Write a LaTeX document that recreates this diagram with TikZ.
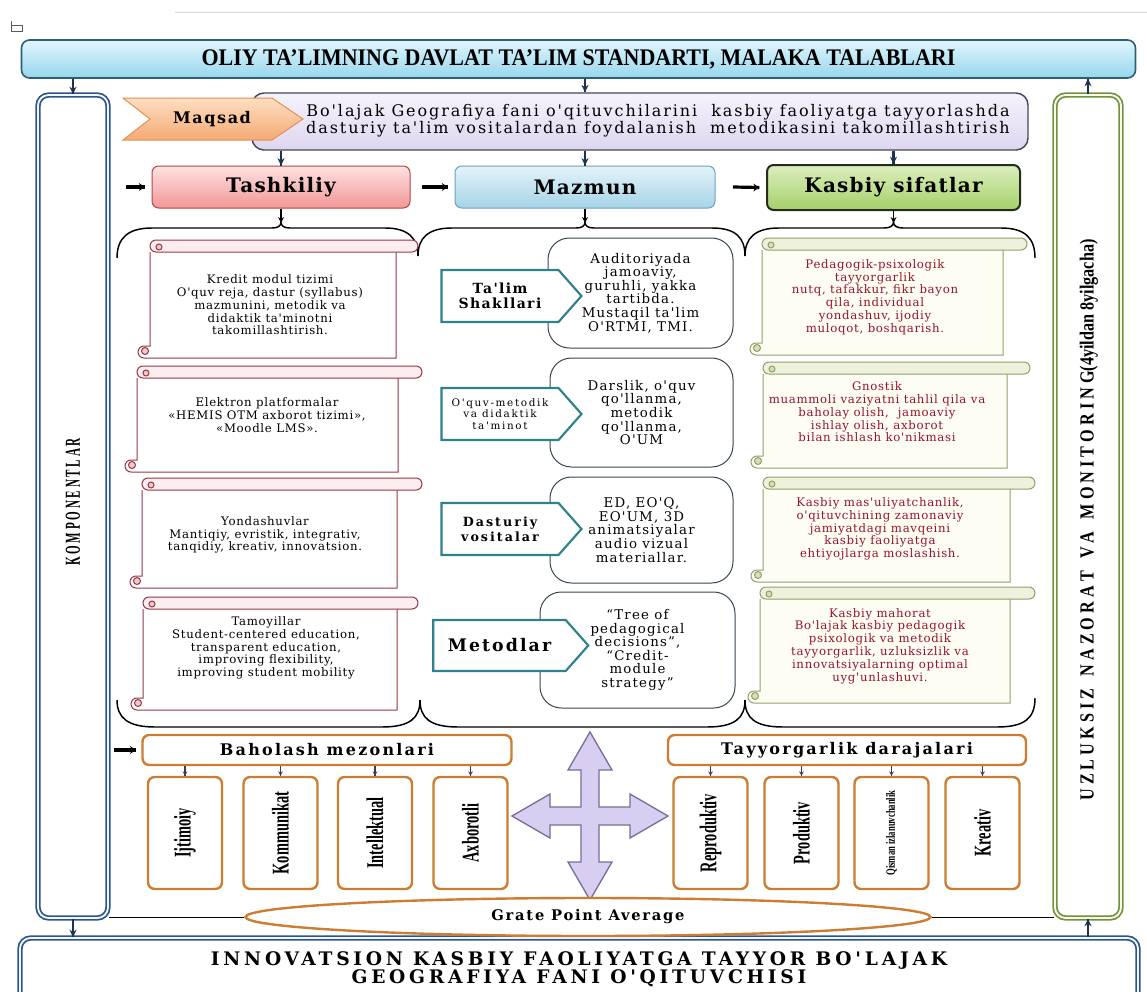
\documentclass[tikz,border=0pt]{standalone}
\usepackage{fontspec}
\setmainfont{Liberation Serif}
\newfontfamily\dvserif{DejaVu Serif}
\usetikzlibrary{shapes.geometric,shapes.symbols}

\definecolor{stdtop}{RGB}{226,246,252}
\definecolor{stdbot}{RGB}{150,214,238}
\definecolor{goaltop}{RGB}{246,243,251}
\definecolor{goalbot}{RGB}{222,214,240}
\definecolor{chevtop}{RGB}{253,222,195}
\definecolor{chevbot}{RGB}{245,170,115}
\definecolor{tashtop}{RGB}{253,226,226}
\definecolor{tashbot}{RGB}{242,150,150}
\definecolor{mazmtop}{RGB}{228,243,249}
\definecolor{mazmbot}{RGB}{165,212,232}
\definecolor{kasbtop}{RGB}{220,238,190}
\definecolor{kasbbot}{RGB}{165,208,105}

\tikzset{every picture/.style={line width=0.75pt}}
\tikzset{
  scrolltext/.style={align=center, inner sep=0pt, font=\dvserif\addfontfeatures{LetterSpace=6}\fontsize{8.8}{9.6}\selectfont},
  redtext/.style={scrolltext, text={rgb, 255:red, 150; green, 20; blue, 45 }},
  calloutbox/.style={draw={rgb, 255:red, 55; green, 70; blue, 80 }, fill=white, rounded corners=16pt, inner sep=0pt, align=center, font=\dvserif\addfontfeatures{LetterSpace=9}\fontsize{10}{10.2}\selectfont},
  tagsign/.style={signal, signal to=east, signal pointer angle=97, draw={rgb, 255:red, 45; green, 130; blue, 140 }, line width=1.6pt, fill=white, inner sep=0pt, align=center},
  headbox/.style={rounded corners=5pt, inner sep=0pt, minimum height=31.5pt, font=\dvserif\bfseries\addfontfeatures{LetterSpace=6}\fontsize{15}{15}\selectfont},
  orangebox/.style={draw={rgb, 255:red, 205; green, 125; blue, 50 }, line width=1.8pt, rounded corners=5pt, fill=white, inner sep=0pt},
  uprighttext/.style={font=\bfseries\fontsize{18}{18}\selectfont},
}

\begin{document}
\begin{tikzpicture}[x=0.75pt,y=0.75pt,yscale=-1,xscale=1]
\useasboundingbox (0,0) rectangle (1147,992);

%Straight Lines (faint rule at the top)
\draw [color={rgb, 255:red, 215; green, 215; blue, 215 }] (175,12) -- (1147,12) ;
%Shape: small box glyph
\draw [color={rgb, 255:red, 90; green, 90; blue, 90 }, line width=0.6] (11,21) -- (11,31) -- (22,31) -- (22,25) -- (11,25) ;

%Rounded Rect: standard
\node (std) [draw={rgb, 255:red, 45; green, 95; blue, 115 }, line width=1.2pt, rounded corners=6pt, top color=stdtop, bottom color=stdbot, minimum width=835.5pt, minimum height=28.5pt, inner sep=0pt, font=\bfseries\fontsize{17}{17}\selectfont] at (578.5,59) {\scalebox{0.97}[1.05]{OLIY TA'LIMNING DAVLAT TA'LIM STANDARTI, MALAKA TALABLARI}};

%Rounded Rect: komponentlar
\node (komp) [draw={rgb, 255:red, 45; green, 85; blue, 140 }, double={rgb, 255:red, 240; green, 246; blue, 252 }, line width=1.3pt, double distance=1.4pt, rounded corners=8pt, fill=white, minimum width=52.5pt, minimum height=617.25pt, inner sep=0pt] at (73,506.5) {};
% Text Node
\node (komptxt) [rotate=90, inner sep=0pt, font=\bfseries\fontsize{16}{16}\selectfont] at (73,502) {\scalebox{0.52}[1]{K O M P O N E N T L A R}};

%Rounded Rect: monitoring
\node (monit) [draw={rgb, 255:red, 115; green, 145; blue, 55 }, double={rgb, 255:red, 246; green, 250; blue, 238 }, line width=1.3pt, double distance=1.4pt, rounded corners=8pt, fill=white, minimum width=49.5pt, minimum height=617.25pt, inner sep=0pt] at (1088,506.5) {};
% Text Node
\node (monittxt) [rotate=90, inner sep=0pt, font=\bfseries\fontsize{15}{15}\selectfont] at (1089,520) {\scalebox{0.81}[1]{U Z L U K S I Z\ \ \ N A Z O R A T\ \ \ V A\ \ \ M O N I T O R I N G(4yildan 8yilgacha)}};

%Rounded Rect: result
\node (kadr) [draw={rgb, 255:red, 45; green, 85; blue, 140 }, double={rgb, 255:red, 240; green, 246; blue, 252 }, line width=1.3pt, double distance=1.4pt, rounded corners=8pt, fill=white, minimum width=838.5pt, minimum height=60pt, inner sep=0pt] at (579,978) {};
% Text Node
\node (kadrtxt) [align=center, inner sep=0pt, font=\dvserif\bfseries\addfontfeatures{LetterSpace=20}\fontsize{14}{13.5}\selectfont] at (579,969) {INNOVATSION KASBIY FAOLIYATGA TAYYOR BO'LAJAK\\GEOGRAFIYA FANI O'QITUVCHISI};

%Rounded Rect: goal
\node (goal) [draw={rgb, 255:red, 70; green, 70; blue, 90 }, line width=1.1pt, rounded corners=9pt, top color=goaltop, bottom color=goalbot, minimum width=582pt, minimum height=42.75pt, inner sep=0pt] at (640,121.5) {};
% Text Node
\node (goaltxt) [align=center, inner sep=0pt, font=\dvserif\addfontfeatures{LetterSpace=12}\fontsize{12}{12.8}\selectfont] at (658,121) {Bo'lajak Geografiya fani o'qituvchilarini\ \ kasbiy faoliyatga tayyorlashda\\dasturiy ta'lim vositalardan foydalanish\ \ metodikasini takomillashtirish};

%Shape: Chevron
\draw [color={rgb, 255:red, 225; green, 145; blue, 85 }, top color=chevtop, bottom color=chevbot] (123,98) -- (272,98) -- (303,119) -- (272,140) -- (123,140) -- (150,119) -- cycle ;
% Text Node
\node (maqsad) [inner sep=0pt, font=\dvserif\bfseries\addfontfeatures{LetterSpace=10}\fontsize{12}{12}\selectfont] at (212,119) {Maqsad};

%Rounded Rect: three headings
\node (tash) [headbox, draw={rgb, 255:red, 175; green, 70; blue, 70 }, top color=tashtop, bottom color=tashbot, minimum width=193.5pt] at (281,187) {Tashkiliy};
\node (mazm) [headbox, draw={rgb, 255:red, 110; green, 160; blue, 185 }, top color=mazmtop, bottom color=mazmbot, minimum width=195pt] at (585,187) {Mazmun};
\node (kasb) [headbox, draw={rgb, 255:red, 35; green, 45; blue, 30 }, line width=1.5pt, top color=kasbtop, bottom color=kasbbot, minimum width=189.75pt, minimum height=33.75pt] at (893.5,187.5) {Kasbiy sifatlar};

%Straight Lines: top arrows
\draw [color={rgb, 255:red, 30; green, 50; blue, 80 }, line width=1.6] (std.south -| komp.north) -- (komp.north) ;
\draw [shift={(komp.north)}, rotate = 270] [fill={rgb, 255:red, 30; green, 50; blue, 80 }  ][line width=0.08]  [draw opacity=0] (7.5,-3.6) -- (0,0) -- (7.5,3.6) -- (5,0) -- cycle    ;
\draw [color={rgb, 255:red, 30; green, 50; blue, 80 }, line width=1.6] (std.south -| mazm.north) -- (goal.north -| mazm.north) ;
\draw [shift={(goal.north -| mazm.north)}, rotate = 270] [fill={rgb, 255:red, 30; green, 50; blue, 80 }  ][line width=0.08]  [draw opacity=0] (7.5,-3.6) -- (0,0) -- (7.5,3.6) -- (5,0) -- cycle    ;
\draw [color={rgb, 255:red, 30; green, 50; blue, 80 }, line width=1.6] (monit.north) -- (std.south -| monit.north) ;
\draw [shift={(std.south -| monit.north)}, rotate = 90] [fill={rgb, 255:red, 30; green, 50; blue, 80 }  ][line width=0.08]  [draw opacity=0] (7.5,-3.6) -- (0,0) -- (7.5,3.6) -- (5,0) -- cycle    ;
\draw [color={rgb, 255:red, 30; green, 50; blue, 80 }, line width=1.6] (goal.south -| tash.north) -- (tash.north) ;
\draw [shift={(tash.north)}, rotate = 270] [fill={rgb, 255:red, 30; green, 50; blue, 80 }  ][line width=0.08]  [draw opacity=0] (7.5,-3.6) -- (0,0) -- (7.5,3.6) -- (5,0) -- cycle    ;
\draw [color={rgb, 255:red, 30; green, 50; blue, 80 }, line width=1.6] (goal.south -| mazm.north) -- (mazm.north) ;
\draw [shift={(mazm.north)}, rotate = 270] [fill={rgb, 255:red, 30; green, 50; blue, 80 }  ][line width=0.08]  [draw opacity=0] (7.5,-3.6) -- (0,0) -- (7.5,3.6) -- (5,0) -- cycle    ;
\draw [color={rgb, 255:red, 30; green, 50; blue, 80 }, line width=1.6] (goal.south -| kasb.north) -- (kasb.north) ;
\draw [shift={(kasb.north)}, rotate = 270] [fill={rgb, 255:red, 30; green, 50; blue, 80 }  ][line width=0.08]  [draw opacity=0] (7.5,-3.6) -- (0,0) -- (7.5,3.6) -- (5,0) -- cycle    ;

%Straight Lines: thick pointers into the headings
\coordinate (inTash) at (126,187) ;
\coordinate (inMazm) at (422,187) ;
\coordinate (inKasb) at (733,187) ;
\coordinate (inBah) at (114,750) ;
\draw [line width=2.4] (inTash) -- ([xshift=-5pt]tash.west) ;
\draw [shift={([xshift=-5pt]tash.west)}, rotate = 180] [fill={rgb, 255:red, 0; green, 0; blue, 0 }  ][line width=0.08]  [draw opacity=0] (6,-4) -- (0,0) -- (6,4) -- (4,0) -- cycle    ;
\draw [line width=2.4] (inMazm) -- ([xshift=-5pt]mazm.west) ;
\draw [shift={([xshift=-5pt]mazm.west)}, rotate = 180] [fill={rgb, 255:red, 0; green, 0; blue, 0 }  ][line width=0.08]  [draw opacity=0] (6,-4) -- (0,0) -- (6,4) -- (4,0) -- cycle    ;
\draw [line width=2.4] (inKasb) -- ([xshift=-5pt]kasb.west) ;
\draw [shift={([xshift=-5pt]kasb.west)}, rotate = 180] [fill={rgb, 255:red, 0; green, 0; blue, 0 }  ][line width=0.08]  [draw opacity=0] (6,-4) -- (0,0) -- (6,4) -- (4,0) -- cycle    ;

%Shape: Braces (top)
\coordinate (braceT) at (281,223) ;
\coordinate (braceM) at (585,223) ;
\coordinate (braceK) at (893.5,223) ;
\draw [line width=1.1] (117,258) .. controls (117,238) and (128,228) .. (152,228) -- (272,228) .. controls (278,228) and (281,226) .. (281,222) .. controls (281,226) and (284,228) .. (290,228) -- (385,228) .. controls (408,228) and (418,238) .. (418,256) ;
\draw [line width=1.1] (418,256) .. controls (418,238) and (428,228) .. (452,228) -- (576,228) .. controls (582,228) and (585,226) .. (585,222) .. controls (585,226) and (588,228) .. (594,228) -- (712,228) .. controls (736,228) and (745,238) .. (745,256) ;
\draw [line width=1.1] (745,256) .. controls (745,238) and (755,228) .. (779,228) -- (884,228) .. controls (890,228) and (893.5,226) .. (893.5,222) .. controls (893.5,226) and (897,228) .. (903,228) -- (1001,228) .. controls (1025,228) and (1035,238) .. (1035,258) ;
%Shape: Braces (bottom)
\draw [line width=1.1] (117,700) .. controls (117,718) and (128,727) .. (155,727) -- (382,727) .. controls (410,727) and (420,718) .. (420,700) ;
\draw [line width=1.1] (420,700) .. controls (420,718) and (430,727) .. (458,727) -- (707,727) .. controls (735,727) and (745,718) .. (745,700) ;
\draw [line width=1.1] (745,700) .. controls (745,718) and (755,727) .. (783,727) -- (997,727) .. controls (1025,727) and (1035,718) .. (1035,698) ;

\draw [line width=1.2] (tash.south) -- (braceT) ;
\draw [shift={(braceT)}, rotate = 270] [fill={rgb, 255:red, 0; green, 0; blue, 0 }  ][line width=0.08]  [draw opacity=0] (6,-3) -- (0,0) -- (6,3) -- (4,0) -- cycle    ;
\draw [line width=1.2] (mazm.south) -- (braceM) ;
\draw [shift={(braceM)}, rotate = 270] [fill={rgb, 255:red, 0; green, 0; blue, 0 }  ][line width=0.08]  [draw opacity=0] (6,-3) -- (0,0) -- (6,3) -- (4,0) -- cycle    ;
\draw [line width=1.2] (kasb.south) -- (braceK) ;
\draw [shift={(braceK)}, rotate = 270] [fill={rgb, 255:red, 0; green, 0; blue, 0 }  ][line width=0.08]  [draw opacity=0] (6,-3) -- (0,0) -- (6,3) -- (4,0) -- cycle    ;

%Shape: Horizontal Scrolls (left column)
\draw [color={rgb, 255:red, 150; green, 55; blue, 70 }, fill=white] (396,252) -- (396,358) -- (144,358) arc (90:270:6) -- (150,346) -- (150,252) ;
\draw [color={rgb, 255:red, 150; green, 55; blue, 70 }, fill={rgb, 255:red, 252; green, 238; blue, 238 }] (156,240) -- (412,240) arc (-90:90:6) -- (156,252) arc (90:270:6) -- cycle ;
\draw [color={rgb, 255:red, 150; green, 55; blue, 70 }, fill={rgb, 255:red, 240; green, 200; blue, 200 }] (159,247) circle (3) (145,351) circle (3.5) ;

\draw [color={rgb, 255:red, 150; green, 55; blue, 70 }, fill=white] (398,378) -- (398,472) -- (131,472) arc (90:270:6) -- (137,460) -- (137,378) ;
\draw [color={rgb, 255:red, 150; green, 55; blue, 70 }, fill={rgb, 255:red, 252; green, 238; blue, 238 }] (143,366) -- (416,366) arc (-90:90:6) -- (143,378) arc (90:270:6) -- cycle ;
\draw [color={rgb, 255:red, 150; green, 55; blue, 70 }, fill={rgb, 255:red, 240; green, 200; blue, 200 }] (146,373) circle (3) (132,465) circle (3.5) ;

\draw [color={rgb, 255:red, 150; green, 55; blue, 70 }, fill=white] (397,490) -- (397,588) -- (136,588) arc (90:270:6) -- (142,576) -- (142,490) ;
\draw [color={rgb, 255:red, 150; green, 55; blue, 70 }, fill={rgb, 255:red, 252; green, 238; blue, 238 }] (148,478) -- (416,478) arc (-90:90:6) -- (148,490) arc (90:270:6) -- cycle ;
\draw [color={rgb, 255:red, 150; green, 55; blue, 70 }, fill={rgb, 255:red, 240; green, 200; blue, 200 }] (151,485) circle (3) (137,581) circle (3.5) ;

\draw [color={rgb, 255:red, 150; green, 55; blue, 70 }, fill=white] (397,609) -- (397,710) -- (137,710) arc (90:270:6) -- (143,698) -- (143,609) ;
\draw [color={rgb, 255:red, 150; green, 55; blue, 70 }, fill={rgb, 255:red, 252; green, 238; blue, 238 }] (149,597) -- (412,597) arc (-90:90:6) -- (149,609) arc (90:270:6) -- cycle ;
\draw [color={rgb, 255:red, 150; green, 55; blue, 70 }, fill={rgb, 255:red, 240; green, 200; blue, 200 }] (152,604) circle (3) (138,703) circle (3.5) ;

%Shape: Horizontal Scrolls (right column)
\draw [color={rgb, 255:red, 145; green, 160; blue, 105 }, fill={rgb, 255:red, 253; green, 253; blue, 244 }] (1003,250) -- (1003,355) -- (756,355) arc (90:270:6) -- (762,343) -- (762,250) ;
\draw [color={rgb, 255:red, 145; green, 160; blue, 105 }, fill={rgb, 255:red, 238; green, 241; blue, 220 }] (768,238) -- (1021,238) arc (-90:90:6) -- (768,250) arc (90:270:6) -- cycle ;
\draw [color={rgb, 255:red, 145; green, 160; blue, 105 }, fill={rgb, 255:red, 215; green, 222; blue, 180 }] (771,245) circle (3) (757,348) circle (3.5) ;

\draw [color={rgb, 255:red, 145; green, 160; blue, 105 }, fill={rgb, 255:red, 253; green, 253; blue, 244 }] (1007,374) -- (1007,468) -- (757,468) arc (90:270:6) -- (763,456) -- (763,374) ;
\draw [color={rgb, 255:red, 145; green, 160; blue, 105 }, fill={rgb, 255:red, 238; green, 241; blue, 220 }] (769,362) -- (1024,362) arc (-90:90:6) -- (769,374) arc (90:270:6) -- cycle ;
\draw [color={rgb, 255:red, 145; green, 160; blue, 105 }, fill={rgb, 255:red, 215; green, 222; blue, 180 }] (772,369) circle (3) (758,461) circle (3.5) ;

\draw [color={rgb, 255:red, 145; green, 160; blue, 105 }, fill={rgb, 255:red, 253; green, 253; blue, 244 }] (1010,489) -- (1010,582) -- (757,582) arc (90:270:6) -- (763,570) -- (763,489) ;
\draw [color={rgb, 255:red, 145; green, 160; blue, 105 }, fill={rgb, 255:red, 238; green, 241; blue, 220 }] (769,477) -- (1029,477) arc (-90:90:6) -- (769,489) arc (90:270:6) -- cycle ;
\draw [color={rgb, 255:red, 145; green, 160; blue, 105 }, fill={rgb, 255:red, 215; green, 222; blue, 180 }] (772,484) circle (3) (758,575) circle (3.5) ;

\draw [color={rgb, 255:red, 145; green, 160; blue, 105 }, fill={rgb, 255:red, 253; green, 253; blue, 244 }] (1010,599) -- (1010,703) -- (754,703) arc (90:270:6) -- (760,691) -- (760,599) ;
\draw [color={rgb, 255:red, 145; green, 160; blue, 105 }, fill={rgb, 255:red, 238; green, 241; blue, 220 }] (766,587) -- (1029,587) arc (-90:90:6) -- (766,599) arc (90:270:6) -- cycle ;
\draw [color={rgb, 255:red, 145; green, 160; blue, 105 }, fill={rgb, 255:red, 215; green, 222; blue, 180 }] (769,594) circle (3) (755,696) circle (3.5) ;

% Text Node
\node (kredit) [scrolltext] at (270,305) {Kredit modul tizimi\\O'quv reja, dastur (syllabus)\\mazmunini, metodik va\\didaktik ta'minotni\\takomillashtirish.};
% Text Node
\node (platf) [scrolltext] at (267,415) {Elektron platformalar\\«HEMIS OTM axborot tizimi»,\\«Moodle LMS».};
% Text Node
\node (yondash) [scrolltext] at (265,535) {Yondashuvlar\\Mantiqiy, evristik, integrativ,\\tanqidiy, kreativ, innovatsion.};
% Text Node
\node (tamoyil) [scrolltext] at (266,648) {Tamoyillar\\Student-centered education,\\transparent education,\\improving flexibility,\\improving student mobility};

% Text Node
\node (psix) [redtext] at (875,297) {Pedagogik-psixologik\\tayyorgarlik\\nutq, tafakkur, fikr bayon\\qila, individual\\yondashuv, ijodiy\\muloqot, boshqarish.};
% Text Node
\node (gnost) [redtext] at (877,412) {Gnostik\\muammoli vaziyatni tahlil qila va\\baholay olish,\ \ jamoaviy\\ishlay olish, axborot\\bilan ishlash ko'nikmasi};
% Text Node
\node (masul) [redtext] at (880,529) {Kasbiy mas'uliyatchanlik,\\o'qituvchining zamonaviy\\jamiyatdagi mavqeini\\kasbiy faoliyatga\\ehtiyojlarga moslashish.};
% Text Node
\node (mahorat) [redtext] at (880,646) {Kasbiy mahorat\\Bo'lajak kasbiy pedagogik\\psixologik va metodik\\tayyorgarlik, uzluksizlik va\\innovatsiyalarning optimal\\uyg'unlashuvi.};

%Rounded Rect: middle column
\node (auditor) [calloutbox, minimum width=138.75pt, minimum height=82.5pt] at (640.5,293) {Auditoriyada\\jamoaviy,\\guruhli, yakka\\tartibda.\\Mustaqil ta'lim\\O'RTMI, TMI.};
\node (darslik) [calloutbox, minimum width=137.25pt, minimum height=81.75pt] at (641.5,412.5) {Darslik, o'quv\\qo'llanma,\\metodik\\qo'llanma,\\O'UM};
\node (vosita) [calloutbox, minimum width=137.25pt, minimum height=79.5pt] at (641.5,530) {ED, EO'Q,\\EO'UM, 3D\\animatsiyalar\\audio vizual\\materiallar.};
\node (qaror) [calloutbox, minimum width=146.25pt, minimum height=87pt] at (637.5,650) {“Tree of\\pedagogical\\decisions”,\\“Credit-\\module\\strategy”};

%Shape: Pentagons
\node (shakl) [tagsign, minimum width=105pt, minimum height=39pt, font=\dvserif\bfseries\addfontfeatures{LetterSpace=10}\fontsize{10.5}{11.5}\selectfont] at (500,296) {Ta'lim\\Shakllari};
\node (taminot) [tagsign, minimum width=105pt, minimum height=39pt, font=\dvserif\addfontfeatures{LetterSpace=16}\fontsize{7.8}{8.4}\selectfont] at (500,414) {O'quv-metodik\\va didaktik\\ta'minot};
\node (dastur) [tagsign, minimum width=105pt, minimum height=39pt, font=\dvserif\bfseries\addfontfeatures{LetterSpace=16}\fontsize{9.5}{11}\selectfont] at (500,529) {Dasturiy\\vositalar};
\node (metod) [tagsign, minimum width=116.25pt, minimum height=38.25pt, font=\dvserif\bfseries\addfontfeatures{LetterSpace=12}\fontsize{13}{13}\selectfont] at (499.5,645.5) {Metodlar};

%Shape: Four-way arrow
\draw [color={rgb, 255:red, 120; green, 110; blue, 150 }, fill={rgb, 255:red, 216; green, 206; blue, 242 }, line width=1] (590,732) -- (612,770) -- (599,770) -- (599,807) -- (630,807) -- (630,794) -- (668,816) -- (630,838) -- (630,825) -- (599,825) -- (599,862) -- (612,862) -- (590,900) -- (568,862) -- (581,862) -- (581,825) -- (550,825) -- (550,838) -- (512,816) -- (550,794) -- (550,807) -- (581,807) -- (581,770) -- (568,770) -- cycle ;

%Rounded Rect: criteria and levels
\node (bah) [orangebox, minimum width=276.75pt, minimum height=22.5pt, font=\dvserif\bfseries\addfontfeatures{LetterSpace=14}\fontsize{12}{12}\selectfont] at (327,750) {Baholash mezonlari};
\node (tay) [orangebox, minimum width=268.5pt, minimum height=22.5pt, font=\dvserif\bfseries\addfontfeatures{LetterSpace=14}\fontsize{12}{12}\selectfont] at (847,750) {Tayyorgarlik darajalari};
\draw [line width=2.4] (inBah) -- ([xshift=-4pt]bah.west) ;
\draw [shift={([xshift=-4pt]bah.west)}, rotate = 180] [fill={rgb, 255:red, 0; green, 0; blue, 0 }  ][line width=0.08]  [draw opacity=0] (6,-4) -- (0,0) -- (6,4) -- (4,0) -- cycle    ;

\node (ijt) [orangebox, uprighttext, minimum width=55.5pt, minimum height=84pt] at (185,833) {\rotatebox{90}{\scalebox{0.6}[1]{Ijtimoiy}}};
\node (komm) [orangebox, uprighttext, minimum width=55.5pt, minimum height=84pt] at (280.5,833) {\rotatebox{90}{\scalebox{0.6}[1]{Kommunikat}}};
\node (intel) [orangebox, uprighttext, minimum width=55.5pt, minimum height=84pt] at (375,833) {\rotatebox{90}{\scalebox{0.6}[1]{Intellektual}}};
\node (axb) [orangebox, uprighttext, minimum width=55.5pt, minimum height=84pt] at (470.5,833) {\rotatebox{90}{\scalebox{0.6}[1]{Axborotli}}};
\node (rep) [orangebox, uprighttext, minimum width=55.5pt, minimum height=84pt] at (710.5,833) {\rotatebox{90}{\scalebox{0.6}[1]{Reproduktiv}}};
\node (prod) [orangebox, uprighttext, minimum width=55.5pt, minimum height=84pt] at (801.5,833) {\rotatebox{90}{\scalebox{0.6}[1]{Produktiv}}};
\node (qism) [orangebox, minimum width=55.5pt, minimum height=84pt, font=\bfseries\fontsize{9.5}{9.5}\selectfont] at (891.5,833) {\rotatebox{90}{\scalebox{0.68}[1]{Qisman izlanuvchanlik}}};
\node (kreat) [orangebox, uprighttext, minimum width=55.5pt, minimum height=84pt] at (982.5,833) {\rotatebox{90}{\scalebox{0.6}[1]{Kreativ}}};

%Straight Lines: small arrows
\draw [line width=0.9, color={rgb, 255:red, 60; green, 60; blue, 80 }] (bah.south -| ijt.north) -- (ijt.north) ;
\draw [shift={(ijt.north)}, rotate = 270] [fill={rgb, 255:red, 60; green, 60; blue, 80 }  ][line width=0.08]  [draw opacity=0] (4.5,-2.4) -- (0,0) -- (4.5,2.4) -- (3,0) -- cycle    ;
\draw [line width=0.9, color={rgb, 255:red, 60; green, 60; blue, 80 }] (bah.south -| komm.north) -- (komm.north) ;
\draw [shift={(komm.north)}, rotate = 270] [fill={rgb, 255:red, 60; green, 60; blue, 80 }  ][line width=0.08]  [draw opacity=0] (4.5,-2.4) -- (0,0) -- (4.5,2.4) -- (3,0) -- cycle    ;
\draw [line width=0.9, color={rgb, 255:red, 60; green, 60; blue, 80 }] (bah.south -| intel.north) -- (intel.north) ;
\draw [shift={(intel.north)}, rotate = 270] [fill={rgb, 255:red, 60; green, 60; blue, 80 }  ][line width=0.08]  [draw opacity=0] (4.5,-2.4) -- (0,0) -- (4.5,2.4) -- (3,0) -- cycle    ;
\draw [line width=0.9, color={rgb, 255:red, 60; green, 60; blue, 80 }] (bah.south -| axb.north) -- (axb.north) ;
\draw [shift={(axb.north)}, rotate = 270] [fill={rgb, 255:red, 60; green, 60; blue, 80 }  ][line width=0.08]  [draw opacity=0] (4.5,-2.4) -- (0,0) -- (4.5,2.4) -- (3,0) -- cycle    ;
\draw [line width=0.9, color={rgb, 255:red, 60; green, 60; blue, 80 }] (tay.south -| rep.north) -- (rep.north) ;
\draw [shift={(rep.north)}, rotate = 270] [fill={rgb, 255:red, 60; green, 60; blue, 80 }  ][line width=0.08]  [draw opacity=0] (4.5,-2.4) -- (0,0) -- (4.5,2.4) -- (3,0) -- cycle    ;
\draw [line width=0.9, color={rgb, 255:red, 60; green, 60; blue, 80 }] (tay.south -| prod.north) -- (prod.north) ;
\draw [shift={(prod.north)}, rotate = 270] [fill={rgb, 255:red, 60; green, 60; blue, 80 }  ][line width=0.08]  [draw opacity=0] (4.5,-2.4) -- (0,0) -- (4.5,2.4) -- (3,0) -- cycle    ;
\draw [line width=0.9, color={rgb, 255:red, 60; green, 60; blue, 80 }] (tay.south -| qism.north) -- (qism.north) ;
\draw [shift={(qism.north)}, rotate = 270] [fill={rgb, 255:red, 60; green, 60; blue, 80 }  ][line width=0.08]  [draw opacity=0] (4.5,-2.4) -- (0,0) -- (4.5,2.4) -- (3,0) -- cycle    ;
\draw [line width=0.9, color={rgb, 255:red, 60; green, 60; blue, 80 }] (tay.south -| kreat.north) -- (kreat.north) ;
\draw [shift={(kreat.north)}, rotate = 270] [fill={rgb, 255:red, 60; green, 60; blue, 80 }  ][line width=0.08]  [draw opacity=0] (4.5,-2.4) -- (0,0) -- (4.5,2.4) -- (3,0) -- cycle    ;

%Shape: Ellipse
\node (gpa) [ellipse, draw={rgb, 255:red, 205; green, 125; blue, 50 }, line width=1.8pt, fill=white, minimum width=513.75pt, minimum height=28.5pt, inner sep=0pt, font=\dvserif\bfseries\addfontfeatures{LetterSpace=12}\fontsize{11}{11}\selectfont] at (588,917) {Grate Point Average};
\draw (gpa.west) -- (gpa.west -| komp.east) ;
\draw (gpa.east) -- (gpa.east -| monit.west) ;

%Straight Lines: bottom arrows
\draw [color={rgb, 255:red, 30; green, 50; blue, 80 }, line width=1.6] (komp.south) -- (kadr.north -| komp.south) ;
\draw [shift={(kadr.north -| komp.south)}, rotate = 270] [fill={rgb, 255:red, 30; green, 50; blue, 80 }  ][line width=0.08]  [draw opacity=0] (7.5,-3.6) -- (0,0) -- (7.5,3.6) -- (5,0) -- cycle    ;
\draw [color={rgb, 255:red, 30; green, 50; blue, 80 }, line width=1.6] (kadr.north -| monit.south) -- (monit.south) ;
\draw [shift={(monit.south)}, rotate = 90] [fill={rgb, 255:red, 30; green, 50; blue, 80 }  ][line width=0.08]  [draw opacity=0] (7.5,-3.6) -- (0,0) -- (7.5,3.6) -- (5,0) -- cycle    ;

\end{tikzpicture}
\end{document}
